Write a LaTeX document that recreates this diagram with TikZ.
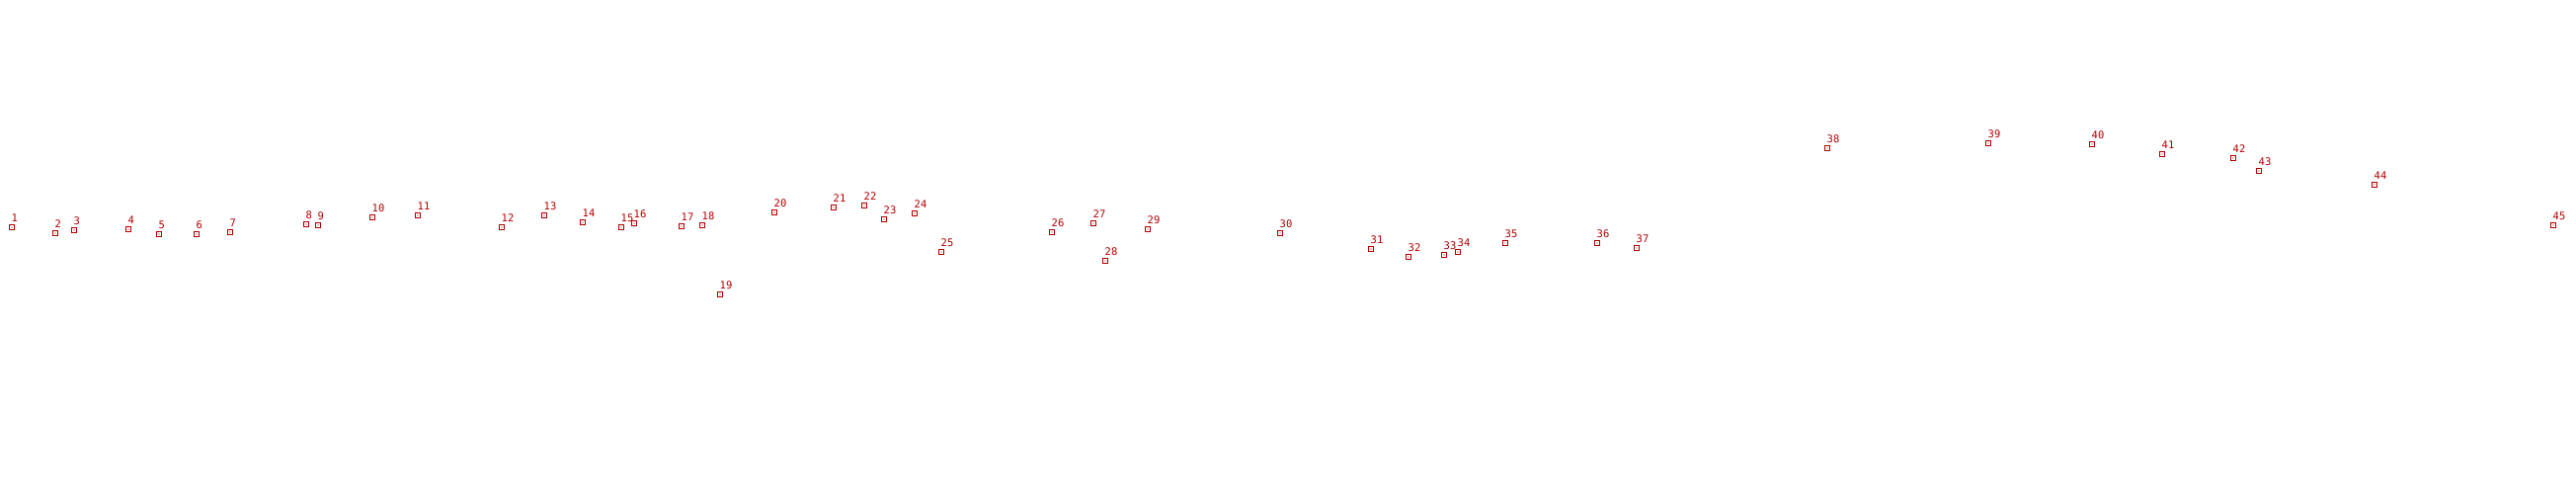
\documentclass[tikz,border=0pt]{standalone}
\usepackage{fontspec}
\usepackage{xcolor}
\usepackage{tikz}
\newfontfamily\ptfont{DejaVu Sans Mono}
\definecolor{markred}{RGB}{176,0,0}

\begin{document}
\begin{tikzpicture}[x=1pt, y=-1pt,
        pt/.style={rectangle, draw=markred, line width=0.9pt, minimum size=4.5pt, inner sep=0pt,
            path picture={\fill[markred] (path picture bounding box.center) circle (0.55pt);}},
        lbl/.style={anchor=base west, inner sep=0pt, xshift=-0.5pt, yshift=5.5pt,
            text=markred, font=\ptfont\fontsize{10.5}{11}\selectfont}]
        \useasboundingbox (0,0) rectangle (2608,500);

        \node[pt] (p1) at (12,230) {};    \node[lbl] (t1) at (p1) {1};
        \node[pt] (p2) at (56,236) {};    \node[lbl] (t2) at (p2) {2};
        \node[pt] (p3) at (75,233) {};    \node[lbl] (t3) at (p3) {3};
        \node[pt] (p4) at (130,232) {};   \node[lbl] (t4) at (p4) {4};
        \node[pt] (p5) at (161,237) {};   \node[lbl] (t5) at (p5) {5};
        \node[pt] (p6) at (199,237) {};   \node[lbl] (t6) at (p6) {6};
        \node[pt] (p7) at (233,235) {};   \node[lbl] (t7) at (p7) {7};
        \node[pt] (p8) at (310,227) {};   \node[lbl] (t8) at (p8) {8};
        \node[pt] (p9) at (322,228) {};   \node[lbl] (t9) at (p9) {9};
        \node[pt] (p10) at (377,220) {};  \node[lbl] (t10) at (p10) {10};
        \node[pt] (p11) at (423,218) {};  \node[lbl] (t11) at (p11) {11};
        \node[pt] (p12) at (508,230) {};  \node[lbl] (t12) at (p12) {12};
        \node[pt] (p13) at (551,218) {};  \node[lbl] (t13) at (p13) {13};
        \node[pt] (p14) at (590,225) {};  \node[lbl] (t14) at (p14) {14};
        \node[pt] (p15) at (629,230) {};  \node[lbl] (t15) at (p15) {15};
        \node[pt] (p16) at (642,226) {};  \node[lbl] (t16) at (p16) {16};
        \node[pt] (p17) at (690,229) {};  \node[lbl] (t17) at (p17) {17};
        \node[pt] (p18) at (711,228) {};  \node[lbl] (t18) at (p18) {18};
        \node[pt] (p19) at (729,298) {};  \node[lbl] (t19) at (p19) {19};
        \node[pt] (p20) at (784,215) {};  \node[lbl] (t20) at (p20) {20};
        \node[pt] (p21) at (844,210) {};  \node[lbl] (t21) at (p21) {21};
        \node[pt] (p22) at (875,208) {};  \node[lbl] (t22) at (p22) {22};
        \node[pt] (p23) at (895,222) {};  \node[lbl] (t23) at (p23) {23};
        \node[pt] (p24) at (926,216) {};  \node[lbl] (t24) at (p24) {24};
        \node[pt] (p25) at (953,255) {};  \node[lbl] (t25) at (p25) {25};
        \node[pt] (p26) at (1065,235) {}; \node[lbl] (t26) at (p26) {26};
        \node[pt] (p27) at (1107,226) {}; \node[lbl] (t27) at (p27) {27};
        \node[pt] (p28) at (1119,264) {}; \node[lbl] (t28) at (p28) {28};
        \node[pt] (p29) at (1162,232) {}; \node[lbl] (t29) at (p29) {29};
        \node[pt] (p30) at (1296,236) {}; \node[lbl] (t30) at (p30) {30};
        \node[pt] (p31) at (1388,252) {}; \node[lbl] (t31) at (p31) {31};
        \node[pt] (p32) at (1426,260) {}; \node[lbl] (t32) at (p32) {32};
        \node[pt] (p33) at (1462,258) {}; \node[lbl] (t33) at (p33) {33};
        \node[pt] (p34) at (1476,255) {}; \node[lbl] (t34) at (p34) {34};
        \node[pt] (p35) at (1524,246) {}; \node[lbl] (t35) at (p35) {35};
        \node[pt] (p36) at (1617,246) {}; \node[lbl] (t36) at (p36) {36};
        \node[pt] (p37) at (1657,251) {}; \node[lbl] (t37) at (p37) {37};
        \node[pt] (p38) at (1850,150) {}; \node[lbl] (t38) at (p38) {38};
        \node[pt] (p39) at (2013,145) {}; \node[lbl] (t39) at (p39) {39};
        \node[pt] (p40) at (2118,146) {}; \node[lbl] (t40) at (p40) {40};
        \node[pt] (p41) at (2189,156) {}; \node[lbl] (t41) at (p41) {41};
        \node[pt] (p42) at (2261,160) {}; \node[lbl] (t42) at (p42) {42};
        \node[pt] (p43) at (2287,173) {}; \node[lbl] (t43) at (p43) {43};
        \node[pt] (p44) at (2404,187) {}; \node[lbl] (t44) at (p44) {44};
        \node[pt] (p45) at (2585,228) {}; \node[lbl] (t45) at (p45) {45};
    \end{tikzpicture}
\end{document}
